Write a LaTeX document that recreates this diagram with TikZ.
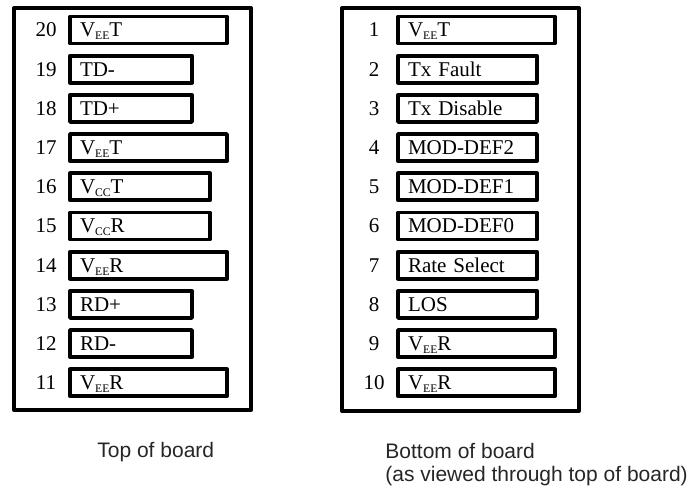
\documentclass[tikz,border=0pt]{standalone}
\usepackage{fontspec}
\setmainfont{Liberation Serif}
\newfontfamily\capfont{Liberation Sans}
\newcommand{\Vs}[1]{V\raisebox{-1.5pt}{\fontsize{5.8}{6}\selectfont #1}}

\begin{document}
\begin{tikzpicture}[x=0.5pt, y=-0.5pt]
        \tikzstyle{board}=[draw=black, line width=2pt, line join=round]
        \tikzstyle{pinbox}=[draw=black, line width=1.9pt, line join=round, shape=rectangle, anchor=north west, outer sep=0pt, inner xsep=5pt, inner ysep=3.25pt, text height=7pt, text depth=0pt, align=left, font=\fontsize{10.5}{12}\selectfont]
        \tikzstyle{pinnum}=[inner sep=0pt, text height=7pt, text depth=0pt, font=\fontsize{10.5}{12}\selectfont]
        \tikzstyle{caption}=[inner sep=0pt, anchor=base west, align=left, text=black!85, font=\capfont\fontsize{10.5}{11.5}\selectfont]
        \useasboundingbox (0,0) rectangle (699,490);

        % the two boards
        \node [style=board, anchor=north west, inner sep=0pt, minimum width=118.5pt, minimum height=201pt] (top) at (12,6) {};
        \node [style=board, anchor=north west, inner sep=0pt, minimum width=118.5pt, minimum height=201.5pt] (bottom) at (340,6) {};

        % top of board: pins 20 to 11
        \foreach \i/\n/\w/\t in {0/20/157/{\Vs{EE}T}, 1/19/122/{TD-}, 2/18/122/{TD+}, 3/17/157/{\Vs{EE}T}, 4/16/140/{\Vs{CC}T},
                5/15/140/{\Vs{CC}R}, 6/14/157/{\Vs{EE}R}, 7/13/122/{RD+}, 8/12/122/{RD-}, 9/11/157/{\Vs{EE}R}} {
            \pgfmathsetmacro\tw{(\w-20)/2}
            \node [style=pinbox, text width=\tw pt] (p\n) at (70, 16.5+\i*39.2) {\t};
            \node [style=pinnum] (n\n) at (46, 30+\i*39.2) {\n};
        }

        % bottom of board: pins 1 to 10
        \foreach \i/\n/\w/\t in {0/1/157/{\Vs{EE}T}, 1/2/139/{Tx Fault}, 2/3/139/{Tx Disable}, 3/4/139/{MOD-DEF2}, 4/5/139/{MOD-DEF1},
                5/6/139/{MOD-DEF0}, 6/7/139/{Rate Select}, 7/8/139/{LOS}, 8/9/157/{\Vs{EE}R}, 9/10/157/{\Vs{EE}R}} {
            \pgfmathsetmacro\tw{(\w-20)/2}
            \node [style=pinbox, text width=\tw pt] (p\n) at (398, 16.5+\i*39.2) {\t};
            \node [style=pinnum] (n\n) at (374, 30+\i*39.2) {\n};
        }

        \node [style=caption] (captop) at (97,457) {Top of board};
        \node [style=caption] (capbottom) at (385,481) {Bottom of board\\(as viewed through top of board)};
\end{tikzpicture}
\end{document}
